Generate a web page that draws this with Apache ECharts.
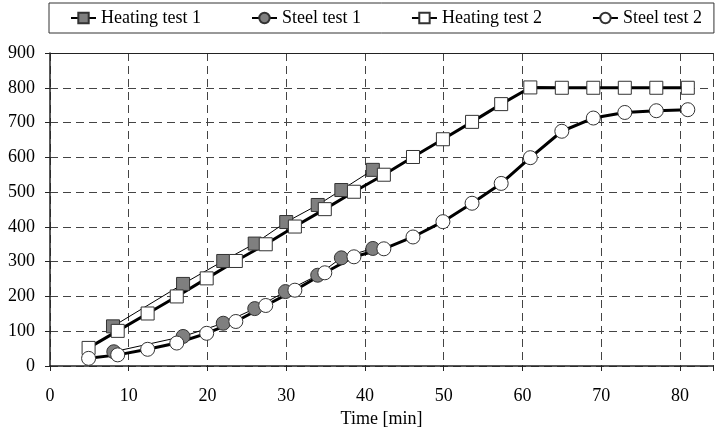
<!DOCTYPE html>
<html>
<head>
<meta charset="utf-8">
<script src="https://cdn.jsdelivr.net/npm/echarts@6.0.0/dist/echarts.min.js"></script>
<style>
  html, body { margin: 0; padding: 0; background: #fff; }
  #chart { width: 716px; height: 433px; }
</style>
</head>
<body>
<div id="chart"></div>
<script>
// values
var heat1Time = [8, 16.9, 22, 26, 30, 34, 37, 41];
var heat1Temp = [114, 236, 302, 352, 414, 463, 506, 564];
var steel1Time = [8.1, 16.9, 22, 26, 29.9, 34, 37, 41];
var steel1Temp = [41, 85, 123, 165, 214, 261, 311, 338];
var heat2Time = [4.9, 8.6, 12.4, 16.1, 19.9, 23.6, 27.4, 31.1, 34.9, 38.6, 42.4,
                 46.1, 49.9, 53.6, 57.3, 61, 65, 69, 73, 77, 81];
var heat2Temp = [52, 101, 151, 200, 252, 302, 350, 401, 451, 501, 550,
                 601, 652, 702, 753, 801, 800, 800, 800, 800, 800];
var steel2Time = heat2Time;
var steel2Temp = [22, 32, 48, 66, 94, 128, 174, 218, 268, 314, 337,
                  371, 415, 468, 525, 599, 675, 713, 729, 734, 737];
var seriesNames = ["Heating test 1", "Steel test 1", "Heating test 2", "Steel test 2"];

function pairs(xs, ys) {
  return xs.map(function (x, i) { return [x, ys[i]]; });
}

var font = "Liberation Serif";
var myChart = echarts.init(document.getElementById("chart"));

function mk(name, xs, ys, symbol, fill, width) {
  return {
    name: name,
    type: "line",
    data: pairs(xs, ys),
    symbol: symbol,
    symbolSize: symbol === "rect" ? 13 : 14,
    showAllSymbol: true,
    lineStyle: { color: "#000", width: width },
    itemStyle: { color: fill, borderColor: "#333", borderWidth: 1 },
    emphasis: { disabled: true },
    animation: false
  };
}

var option = {
  backgroundColor: "#fff",
  animation: false,
  legend: {
    data: seriesNames,
    left: 49,
    top: 3,
    padding: [6, 12, 6, 21],
    itemGap: 50,
    itemWidth: 25,
    itemHeight: 13,
    borderColor: "#333",
    borderWidth: 1,
    textStyle: { fontFamily: font, fontSize: 18, color: "#000" }
  },
  grid: { left: 50, right: 0, top: 53, bottom: 67 },
  xAxis: [{
    type: "value",
    min: 0,
    max: 84.2,
    interval: 10,
    name: "Time [min]",
    nameLocation: "middle",
    nameGap: 44,
    nameTextStyle: { fontFamily: font, fontSize: 18, color: "#000" },
    axisLine: { lineStyle: { color: "#222", width: 1.5 } },
    axisTick: { length: 5, lineStyle: { color: "#222" } },
    axisLabel: {
      fontFamily: font, fontSize: 18, color: "#000", margin: 21,
      formatter: function (v) { return v % 10 === 0 ? String(v) : ""; }
    },
    splitLine: { show: true, lineStyle: { color: "#444", type: [8, 5], width: 1 } }
  }, {
    type: "value",
    position: "top",
    min: 0,
    max: 84.2,
    axisLine: { show: true, onZero: false, lineStyle: { color: "#222", width: 1 } },
    axisTick: { show: false },
    axisLabel: { show: false },
    splitLine: { show: false }
  }],
  yAxis: {
    type: "value",
    min: 0,
    max: 900,
    interval: 100,
    axisLine: { show: true, lineStyle: { color: "#222", width: 1.5 } },
    axisTick: { show: true, length: 5, lineStyle: { color: "#222" } },
    axisLabel: { fontFamily: font, fontSize: 18, color: "#000", margin: 15 },
    splitLine: { show: true, lineStyle: { color: "#444", type: [8, 5], width: 1 } }
  },
  series: [
    mk(seriesNames[0], heat1Time, heat1Temp, "rect", "#7f7f7f", 1),
    mk(seriesNames[1], steel1Time, steel1Temp, "circle", "#7f7f7f", 1),
    mk(seriesNames[2], heat2Time, heat2Temp, "rect", "#fff", 3),
    mk(seriesNames[3], steel2Time, steel2Temp, "circle", "#fff", 3)
  ]
};

myChart.setOption(option);
</script>
</body>
</html>
